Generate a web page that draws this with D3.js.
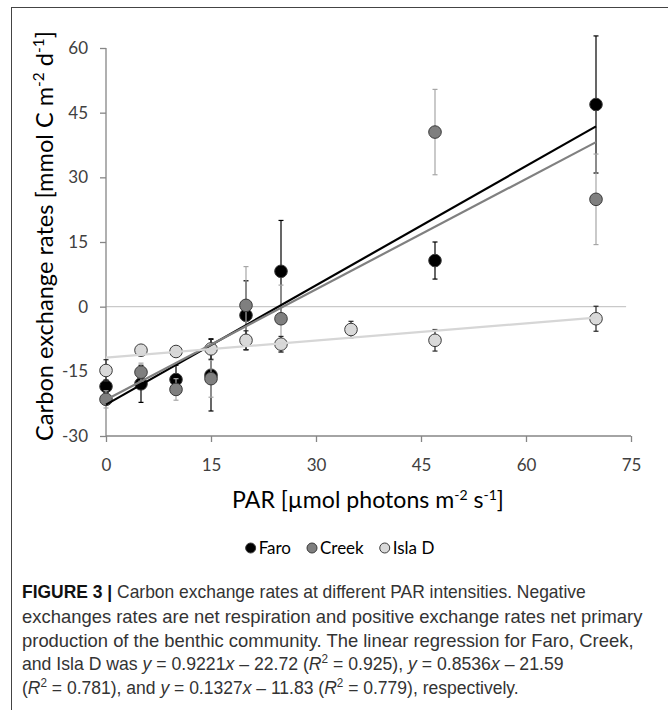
<!DOCTYPE html>
<html>
<head>
<meta charset="utf-8">
<script src="https://cdn.jsdelivr.net/npm/d3@7"></script>
<style>
  html, body { margin: 0; padding: 0; background: #fff; }
  svg { display: block; }
</style>
</head>
<body>
<svg id="chart" width="668" height="710"></svg>
<script>
// ---------------- DATA ----------------
const seriesNames = ["Faro", "Creek", "Isla D"];

const faroPAR = [0, 5, 10, 15, 20, 25, 47, 70];
const faroRate = [-18.5, -17.9, -16.9, -15.9, -2.0, 8.2, 10.7, 46.9];
const faroErr = [1.5, 4.3, 3.3, 8.3, 8.0, 11.8, 4.3, 15.9];

const creekPAR = [0, 5, 10, 15, 20, 25, 47, 70];
const creekRate = [-21.5, -15.2, -19.2, -16.7, 0.3, -2.8, 40.5, 24.9];
const creekErr = [2.0, 2.1, 2.5, 4.3, 9.0, 7.8, 9.9, 10.5];

const islaPAR = [0, 5, 10, 15, 20, 25, 35, 47, 70];
const islaRate = [-14.8, -10.1, -10.4, -9.8, -7.8, -8.7, -5.3, -7.8, -2.8];
const islaErr = [2.5, 0.8, 0.6, 2.4, 2.2, 1.8, 1.9, 2.5, 2.9];

// regression coefficients (slope, intercept) from the caption
const regSlope = [0.9221, 0.8536, 0.1327];
const regIntercept = [-22.72, -21.59, -11.83];
const regRange = [0, 70];

const xTicks = [0, 15, 30, 45, 60, 75];
const yTicks = [-30, -15, 0, 15, 30, 45, 60];

// ---------------- STYLE ----------------
const fills = ["#000000", "#7f7f7f", "#d9d9d9"];
const lineColors = ["#000000", "#808080", "#d6d6d6"];
const errColors = ["#000000", "#a6a6a6", "#262626"];
const axisColor = "#868686";
const labelColor = "#404040";
const chartFont = "Lato, 'Open Sans', sans-serif";
const captionFont = "'Liberation Sans Narrow', 'Liberation Sans', Arial, sans-serif";

const svg = d3.select("#chart");

// frame
svg.append("line").attr("x1", 12).attr("x2", 668).attr("y1", 7.5).attr("y2", 7.5)
  .attr("stroke", "#444").attr("stroke-width", 1);
svg.append("line").attr("x1", 11.5).attr("x2", 11.5).attr("y1", 7).attr("y2", 710)
  .attr("stroke", "#444").attr("stroke-width", 1);

const x = d3.scaleLinear().domain([0, 75]).range([106, 631]);
const y = d3.scaleLinear().domain([-30, 60]).range([436, 48]);

// zero gridline
svg.append("line")
  .attr("x1", x(0)).attr("x2", x(74.3))
  .attr("y1", y(0)).attr("y2", y(0))
  .attr("stroke", "#c9c9c9").attr("stroke-width", 1.2);

// axes
const fmt = d => String(d);
const yAxis = d3.axisLeft(y).tickValues(yTicks).tickSize(6).tickPadding(12).tickFormat(fmt);
const xAxis = d3.axisBottom(x).tickValues(xTicks).tickSize(6).tickPadding(17).tickFormat(fmt);

const gy = svg.append("g").attr("transform", `translate(${x(0)},0)`).call(yAxis);
const gx = svg.append("g").attr("transform", `translate(0,${y(-30)})`).call(xAxis);
[gx, gy].forEach(g => {
  g.select(".domain").attr("stroke", axisColor).attr("stroke-width", 1.3);
  g.selectAll(".tick line").attr("stroke", axisColor).attr("stroke-width", 1.3);
  g.selectAll(".tick text").attr("fill", labelColor).attr("font-family", chartFont).attr("font-size", 17);
});
gy.select(".domain").attr("d", `M0,${y(60)}V${y(-30)}`);
gx.select(".domain").attr("d", `M${x(0)},0H${x(75)}`);

// data points
const series = [
  { px: faroPAR, v: faroRate, e: faroErr },
  { px: creekPAR, v: creekRate, e: creekErr },
  { px: islaPAR, v: islaRate, e: islaErr }
];

const cap = 2.5;
series.forEach((s, i) => {
  const pts = s.px.map((p, j) => ({ p, v: s.v[j], e: s.e[j] }));
  const g = svg.append("g");
  const eb = g.selectAll("g.eb").data(pts).enter().append("g")
    .attr("stroke", errColors[i]).attr("stroke-width", 1.2);
  eb.append("line").attr("x1", d => x(d.p)).attr("x2", d => x(d.p))
    .attr("y1", d => y(d.v - d.e)).attr("y2", d => y(d.v + d.e));
  eb.append("line").attr("x1", d => x(d.p) - cap).attr("x2", d => x(d.p) + cap)
    .attr("y1", d => y(d.v + d.e)).attr("y2", d => y(d.v + d.e));
  eb.append("line").attr("x1", d => x(d.p) - cap).attr("x2", d => x(d.p) + cap)
    .attr("y1", d => y(d.v - d.e)).attr("y2", d => y(d.v - d.e));
  g.selectAll("circle").data(pts).enter().append("circle")
    .attr("cx", d => x(d.p)).attr("cy", d => y(d.v)).attr("r", 6.3)
    .attr("fill", fills[i]).attr("stroke", "#3a3a3a").attr("stroke-width", 1);
});

// regression lines
const line = d3.line().x(d => x(d[0])).y(d => y(d[1]));
regSlope.forEach((m, i) => {
  const pts = regRange.map(p => [p, m * p + regIntercept[i]]);
  svg.append("path").attr("d", line(pts)).attr("fill", "none")
    .attr("stroke", lineColors[i]).attr("stroke-width", 2.2);
});

function fitWidth(t, target) {
  const w = t.node().getComputedTextLength();
  return target / w;
}

// axis titles
const yt = svg.append("text")
  .attr("text-anchor", "middle").attr("font-family", chartFont).attr("font-size", 23)
  .attr("fill", "#000");
yt.append("tspan").text("Carbon exchange rates [mmol C m");
yt.append("tspan").attr("baseline-shift", "super").attr("font-size", 15).text("-2");
yt.append("tspan").text(" d");
yt.append("tspan").attr("baseline-shift", "super").attr("font-size", 15).text("-1");
yt.append("tspan").text("]");
const ys = fitWidth(yt, 410);
yt.attr("transform", `translate(53,236) rotate(-90) scale(${ys},1)`);

const xt = svg.append("text")
  .attr("text-anchor", "middle").attr("font-family", chartFont).attr("font-size", 23)
  .attr("fill", "#000");
xt.append("tspan").text("PAR [µmol photons m");
xt.append("tspan").attr("baseline-shift", "super").attr("font-size", 14).text("-2");
xt.append("tspan").text(" s");
xt.append("tspan").attr("baseline-shift", "super").attr("font-size", 14).text("-1");
xt.append("tspan").text("]");
const xs = fitWidth(xt, 272);
xt.attr("transform", `translate(368,508) scale(${xs},1)`);

// legend
const legend = svg.append("g");
let lx = 0;
seriesNames.forEach((name, i) => {
  const item = legend.append("g").attr("transform", `translate(${lx},0)`);
  item.append("circle").attr("cx", 5).attr("cy", 0).attr("r", 5)
    .attr("fill", fills[i]).attr("stroke", "#3a3a3a").attr("stroke-width", 1);
  const t = item.append("text").attr("x", 13).attr("y", 6)
    .attr("font-family", chartFont).attr("font-size", 17).attr("fill", "#000").text(name);
  lx += 13 + t.node().getComputedTextLength() + 16;
});
const legW = lx - 16;
legend.attr("transform", `translate(${340 - legW / 2},548)`);

// caption
const captionLines = [
  [{ t: "FIGURE 3 | ", b: true }, { t: "Carbon exchange rates at different PAR intensities. Negative" }],
  [{ t: "exchanges rates are net respiration and positive exchange rates net primary" }],
  [{ t: "production of the benthic community. The linear regression for Faro, Creek," }],
  [{ t: "and Isla D was " }, { t: "y", i: true }, { t: " = 0.9221" }, { t: "x", i: true }, { t: " – 22.72 (" },
   { t: "R", i: true }, { t: "2", s: true }, { t: " = 0.925), " }, { t: "y", i: true }, { t: " = 0.8536" },
   { t: "x", i: true }, { t: " – 21.59" }],
  [{ t: "(" }, { t: "R", i: true }, { t: "2", s: true }, { t: " = 0.781), and " }, { t: "y", i: true },
   { t: " = 0.1327" }, { t: "x", i: true }, { t: " – 11.83 (" }, { t: "R", i: true }, { t: "2", s: true },
   { t: " = 0.779), respectively." }]
];
const capWidths = [564, 621, 612, 542, 497];
const capBase = [598, 623, 647, 670, 694];
captionLines.forEach((parts, k) => {
  const t = svg.append("text").attr("font-family", captionFont).attr("font-size", 18)
    .attr("fill", "#333");
  parts.forEach(p => {
    const ts = t.append("tspan").text(p.t);
    if (p.b) ts.attr("font-weight", "bold").attr("fill", "#111");
    if (p.i) ts.attr("font-style", "italic");
    if (p.s) ts.attr("baseline-shift", "super").attr("font-size", 12);
  });
  const sx = fitWidth(t, capWidths[k]);
  t.attr("transform", `translate(22,${capBase[k]}) scale(${sx},1)`);
});
</script>
</body>
</html>
